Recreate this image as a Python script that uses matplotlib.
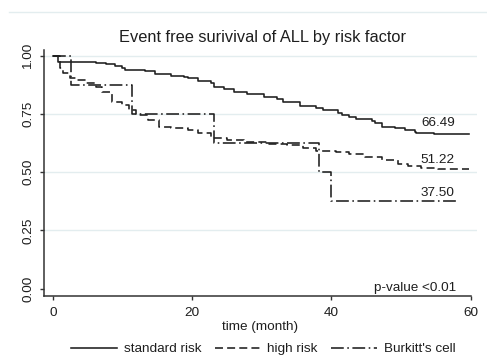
import matplotlib
matplotlib.use('Agg')
import matplotlib.pyplot as plt
from matplotlib.lines import Line2D

plt.rcParams['font.family'] = ['Liberation Sans', 'DejaVu Sans']

# Kaplan-Meier curves (time in months, survival)
std_time = [0, 0.75, 4.3, 6.2, 7.6, 9.0, 10.0, 10.4, 13.3, 14.7, 17.0, 18.9, 19.4, 20.8,
            22.7, 23.2, 24.6, 26.0, 27.9, 30.3, 32.2, 33.1, 35.5, 37.8, 38.8, 40.9,
            41.6, 42.5, 43.5, 45.8, 46.3, 47.3, 49.2, 50.6, 52.0, 52.2, 54.8, 59.8]
std_surv = [1.0, 0.975, 0.973, 0.968, 0.964, 0.958, 0.947, 0.940, 0.933, 0.922, 0.915,
            0.911, 0.904, 0.892, 0.882, 0.868, 0.858, 0.846, 0.835, 0.822, 0.813, 0.800,
            0.784, 0.775, 0.767, 0.753, 0.746, 0.736, 0.727, 0.721, 0.710, 0.695, 0.688,
            0.681, 0.671, 0.667, 0.6649, 0.6649]

high_time = [0, 1.0, 1.5, 2.4, 3.4, 4.8, 6.2, 7.1, 8.5, 10.0, 10.9, 11.9, 13.7, 15.2,
             17.0, 19.4, 20.8, 22.7, 25.0, 27.4, 30.7, 33.6, 36.0, 37.8, 40.7, 42.5,
             44.9, 47.3, 49.6, 51.0, 52.9, 55.3, 59.8]
high_surv = [1.0, 0.947, 0.925, 0.904, 0.897, 0.882, 0.868, 0.846, 0.803, 0.789, 0.767,
             0.746, 0.724, 0.695, 0.690, 0.681, 0.670, 0.647, 0.640, 0.628, 0.620, 0.617,
             0.602, 0.592, 0.588, 0.578, 0.566, 0.552, 0.537, 0.526, 0.520, 0.5122, 0.5122]

burk_time = [0, 2.6, 11.4, 23.2, 38.2, 40.0, 58.4]
burk_surv = [1.0, 0.875, 0.75, 0.625, 0.5, 0.375, 0.375]

labels = ['standard risk', 'high risk', "Burkitt's cell"]
end_values = ['66.49', '51.22', '37.50']
end_label_y = [0.711, 0.552, 0.41]

line_col = '#1e1e1e'
text_col = '#1e1e1e'
grid_col = '#e3edef'

fig = plt.figure(figsize=(4.87, 3.56), dpi=100)
ax = fig.add_axes([0.0903, 0.1685, 0.8887, 0.6911])

ax.step(std_time, std_surv, where='post', color=line_col, lw=1.15, ls='-', label=labels[0])
ax.step(high_time, high_surv, where='post', color=line_col, lw=1.15, ls=(0, (5, 2.6)), label=labels[1])
ax.step(burk_time, burk_surv, where='post', color=line_col, lw=1.15, ls=(0, (8, 2.2, 1, 2.2)), label=labels[2])

for v, y in zip(end_values, end_label_y):
    ax.text(55.3, y, v, ha='center', va='center', fontsize=9.7, color=text_col)
ax.text(52.1, 0.003, 'p-value <0.01', ha='center', va='center', fontsize=9.7, color=text_col)

ax.set_xlim(-1.27, 60.9)
ax.set_ylim(-0.032, 1.025)
ax.set_xticks([0, 20, 40, 60])
ax.set_yticks([0, 0.25, 0.5, 0.75, 1.0])
ax.set_yticklabels(['0.00', '0.25', '0.50', '0.75', '1.00'], rotation=90, va='center')
ax.tick_params(axis='both', labelsize=9.7, labelcolor=text_col, color='#333333',
               length=3, width=1.0, direction='out')
ax.tick_params(axis='x', pad=5)
ax.tick_params(axis='y', pad=4)

for y in [0.25, 0.5, 0.75, 1.0]:
    ax.axhline(y, color=grid_col, lw=1.0, zorder=0)

ax.spines['top'].set_visible(False)
ax.spines['right'].set_visible(False)
ax.spines['left'].set_color('#333333')
ax.spines['bottom'].set_color('#333333')
ax.spines['left'].set_linewidth(1.1)
ax.spines['bottom'].set_linewidth(1.1)
ax.spines['bottom'].set_bounds(-1.27, 60.05)

ax.set_xlabel('time (month)', fontsize=9.7, color=text_col, labelpad=1)

fig.text(0.540, 0.896, 'Event free surivival of ALL by risk factor',
         ha='center', va='center', fontsize=11.8, color=text_col)

# faint border at the top of the graph region
fig.add_artist(Line2D([9 / 487, 1.0], [1 - 12 / 356, 1 - 12 / 356], color=grid_col, lw=1.0))

fig.legend(loc='center', bbox_to_anchor=(0.541, 1 - 349 / 356), ncol=3, frameon=False,
           fontsize=9.7, handlelength=3.4, handletextpad=0.5, columnspacing=1.0,
           labelcolor=text_col, borderaxespad=0, borderpad=0)

fig.savefig('out.png', dpi=100)
